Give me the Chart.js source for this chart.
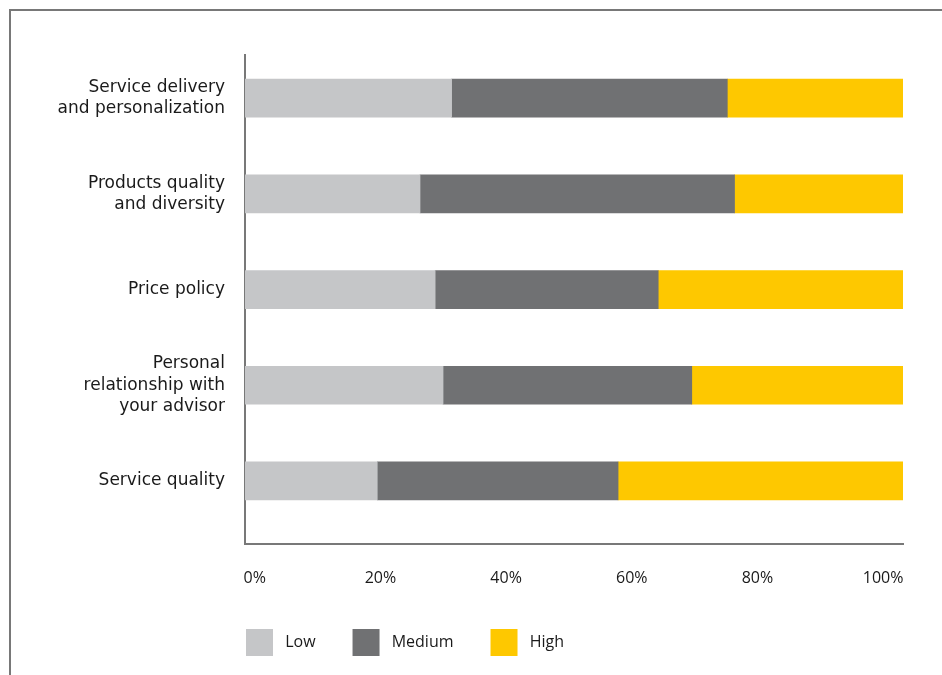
<!DOCTYPE html>
<html><head><meta charset="utf-8">
<script src="https://cdn.jsdelivr.net/npm/chart.js@4.4.1/dist/chart.umd.min.js"></script>
<style>
html,body{margin:0;padding:0;background:#fff;overflow:hidden;width:942px;height:675px;}
#frame{position:absolute;left:9px;top:9px;width:1000px;height:1000px;border-top:2px solid #787878;border-left:2px solid #787878;box-sizing:border-box;}
#wrap{position:absolute;left:0;top:0;width:942px;height:675px;}
</style></head><body>
<div id="frame"></div>
<div id="wrap"><canvas id="c" width="942" height="675" style="width:942px;height:675px"></canvas></div>
<script>
const categories = [
  ["Service delivery", "and personalization"],
  ["Products quality", "and diversity"],
  ["Price policy"],
  ["Personal", "relationship with", "your advisor"],
  ["Service quality"]
];
const seriesNames = ["Low", "Medium", "High"];
const lowValues = [31.4, 26.6, 28.9, 30.1, 20.1];
const mediumValues = [41.9, 47.8, 33.9, 37.8, 36.6];
const highValues = [26.7, 25.6, 37.2, 32.1, 43.3];
const xTickValues = [0, 20, 40, 60, 80, 100];

const colors = ['#c5c6c8', '#707173', '#fec800'];
const FONT = "'Open Sans', 'Liberation Sans', sans-serif";
const FONT_Y = "'DejaVu Sans', 'Open Sans', sans-serif";
const TEXT = '#1a1a1a';

const toPoints = vals => vals.map((v, i) => ({ x: v, y: i }));

// align the legend's first box with the plot's left edge
const legendAlign = {
  id: 'legendAlign',
  afterLayout(chart) {
    const lg = chart.legend;
    if (lg) lg.left = chart.chartArea.left - lg.options.labels.padding + 1;
  }
};

new Chart(document.getElementById('c'), {
  type: 'bar',
  data: {
    datasets: [lowValues, mediumValues, highValues].map((vals, k) => ({
      label: seriesNames[k],
      data: toPoints(vals),
      backgroundColor: colors[k],
      borderWidth: 0,
      barThickness: 38
    }))
  },
  plugins: [legendAlign],
  options: {
    indexAxis: 'y',
    responsive: false,
    animation: false,
    layout: { padding: { left: 0, right: 39, top: 55, bottom: 9 } },
    plugins: {
      tooltip: { enabled: false },
      legend: {
        position: 'bottom',
        align: 'start',
        labels: {
          boxWidth: 27,
          boxHeight: 27,
          padding: 37,
          color: TEXT,
          font: { family: FONT, size: 16 },
          generateLabels(chart) {
            const items = Chart.defaults.plugins.legend.labels.generateLabels(chart);
            items.forEach(it => { it.text = ' ' + it.text; it.lineWidth = 0; });
            return items;
          }
        }
      }
    },
    scales: {
      x: {
        type: 'linear', min: 0, max: 100, stacked: true, position: 'bottom', weight: 0,
        grid: { display: false, drawTicks: false },
        border: { display: true, color: '#787878', width: 2 },
        ticks: { display: false },
        afterFit(s) { s.height = 0; }
      },
      xLabels: {
        type: 'linear', position: 'bottom', weight: 1, min: -1.56, max: 103.17,
        grid: { display: false, drawTicks: false },
        border: { display: false },
        afterBuildTicks(s) { s.ticks = xTickValues.map(v => ({ value: v })); },
        ticks: { callback: v => v + '%', padding: 25, maxRotation: 0, autoSkip: false, color: TEXT, font: { family: FONT, size: 16 } },
        afterFit(s) { s.height = 48; }
      },
      y: {
        type: 'linear', reverse: true, offset: false, stacked: true, min: -0.451, max: 4.659, position: 'left',
        grid: { display: false, drawTicks: false, offset: false },
        border: { display: true, color: '#787878', width: 2 },
        afterBuildTicks(s) { s.ticks = categories.map((c, i) => ({ value: i })); },
        ticks: { callback: v => categories[v], padding: 20, autoSkip: false, color: TEXT, font: { family: FONT_Y, size: 17, lineHeight: 1.25 } },
        afterFit(s) { s.width = 245; }
      }
    }
  }
});
</script>
</body></html>
